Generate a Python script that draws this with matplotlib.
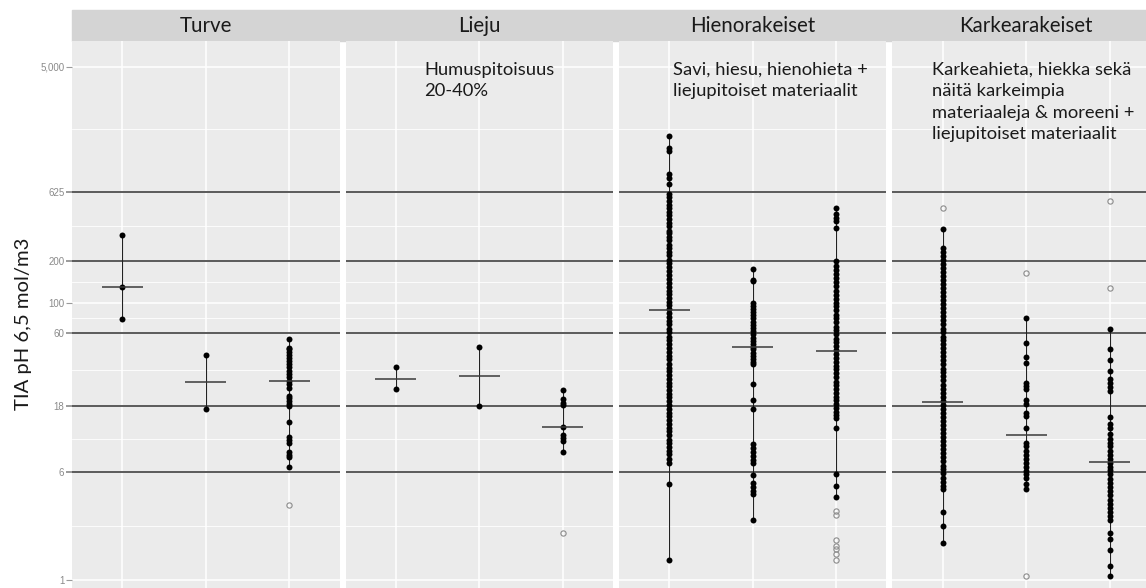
import numpy as np
import matplotlib
matplotlib.use("Agg")
from matplotlib import pyplot as plt
from matplotlib.patches import Rectangle

# facet titles and the notes written inside the panels
panels = ["Turve", "Lieju", "Hienorakeiset", "Karkearakeiset"]
notes = ["", "Humuspitoisuus\n20-40%",
         "Savi, hiesu, hienohieta +\nliejupitoiset materiaalit",
         "Karkeahieta, hiekka sekä\nnäitä karkeimpia\nmateriaaleja & moreeni +\nliejupitoiset materiaalit"]

# y axis
y_ticks = [1, 6, 18, 60, 100, 200, 625, 5000]
y_labels = ["1", "6", "18", "60", "100", "200", "625", "5,000"]
class_limits = [6, 18, 60, 200, 625]

# Turve
turve_pts = [
    [306, 130, 76],
    [42, 17.2],
    [55, 47.4, 46.2, 44.4, 42, 39.8, 38, 36, 34.1, 32.3, 30.5, 28.9, 27.3, 25.9,
     24.2, 21.3, 20.5, 19.4, 18.6, 18, 13.9, 10.7, 10.3, 9.7, 8.4, 8.0, 7.7, 6.5],
]
turve_out = [[], [], [3.5]]
turve_med = [130, 26.9, 27.3]

# Lieju
lieju_pts = [
    [34.5, 23.7],
    [48, 18],
    [23.3, 20.3, 19.0, 18.4, 12.8, 11.2, 10.6, 10.1, 8.4],
]
lieju_out = [[], [], [2.2]]
lieju_med = [28.4, 29.5, 12.8]

# Hienorakeiset
hieno_pts = [
    [1574, 1291, 1228, 839, 785, 711, 603, 572, 540, 505, 480, 452, 430, 401, 377,
     356, 330, 318, 296, 281, 262, 247, 231, 219, 204, 193, 180, 168, 158, 149, 139,
     130, 122, 116, 108, 101, 96, 90, 84, 79, 74, 70, 65, 61, 57, 54, 50, 47, 44, 41,
     39, 36, 34, 32, 30, 28, 26.5, 25, 23.4, 22, 20.8, 19.5, 18.4, 17.2, 16.1, 15.2,
     14.3, 13.4, 12.6, 11.8, 11.1, 10.3, 9.8, 9.1, 8.6, 8.1, 7.5, 7.0, 4.9, 1.39],
    [174, 145, 143, 100, 95, 90, 85, 81, 77, 73, 69, 66, 62, 59, 56, 53, 50, 48, 46,
     43, 41, 39, 37.5, 36.3, 26.0, 20.0, 17.2, 9.6, 9.0, 8.4, 7.9, 7.4, 7.0, 5.7,
     5.0, 4.7, 4.4, 4.2, 2.74],
    [478, 433, 410, 385, 344, 200, 185, 172, 160, 150, 140, 131, 122, 114, 107, 100,
     94, 88, 82, 77, 72, 67, 63, 59, 55, 52, 48.5, 45.5, 42.5, 40, 37.5, 35, 33, 31,
     29, 27, 25.5, 24, 22.5, 21, 19.8, 18.6, 17.4, 16.2, 15.6, 14.8, 12.4, 5.87,
     4.8, 3.95],
]
hieno_out = [[], [], [3.18, 2.93, 1.94, 1.78, 1.67, 1.54, 1.39]]
hieno_med = [88.5, 48.2, 45.1]

# Karkearakeiset
karkea_pts = [
    [338, 247, 232, 216, 202, 190, 177, 165, 155, 145, 136, 127, 119, 111, 104, 97,
     91, 85, 80, 75, 70, 65, 61, 57, 53.5, 50, 47, 44, 41, 38.5, 36, 33.5, 31.5,
     29.5, 27.5, 25.7, 24, 22.5, 21, 19.7, 18.4, 17.2, 16.1, 15, 14.1, 13.2, 12.3,
     11.5, 10.8, 10.1, 9.4, 8.8, 8.2, 7.7, 7.2, 6.7, 6.3, 5.9, 5.5, 5.1, 4.8, 4.58,
     3.13, 2.48, 1.87],
    [77.1, 51.3, 40.7, 36.8, 26.5, 25.2, 23.9, 20.0, 18.7, 16.1, 15.3, 12.6, 9.8,
     9.2, 8.6, 8.0, 7.5, 7.0, 6.5, 6.1, 5.8, 5.5, 4.97, 4.58],
    [64.9, 46.6, 38.9, 32.3, 28.3, 26.5, 24.8, 23.2, 15.1, 13.4, 12.4, 11.3, 10.5,
     9.8, 9.2, 8.6, 8.0, 7.5, 7.0, 6.6, 6.2, 5.8, 5.4, 5.0, 4.7, 4.4, 4.1, 3.8,
     3.55, 3.3, 3.1, 2.9, 2.7, 2.19, 2.0, 1.64, 1.26, 1.07],
]
karkea_out = [[478], [163, 1.07], [537, 128]]
karkea_med = [19.1, 11.1, 7.16]

all_pts = [turve_pts, lieju_pts, hieno_pts, karkea_pts]
all_out = [turve_out, lieju_out, hieno_out, karkea_out]
all_med = [turve_med, lieju_med, hieno_med, karkea_med]

W, H = 1146, 588
fig = plt.figure(figsize=(W / 100, H / 100), dpi=100)
fig.patch.set_facecolor("white")

txt_font = ["Lato", "DejaVu Sans"]
panel_left = [72, 345.5, 619, 892.5]
panel_w = 267.5
ax_top, ax_bot = 41, 606
note_x = [0, 0.293, 0.202, 0.148]

# geometric midpoints between the major ticks -> minor grid
minor = [np.sqrt(a * b) for a, b in zip(y_ticks[:-1], y_ticks[1:])]

for i, name in enumerate(panels):
    ax = fig.add_axes([panel_left[i] / W, (H - ax_bot) / H, panel_w / W, (ax_bot - ax_top) / H])
    ax.set_facecolor("#ebebeb")
    for s in ax.spines.values():
        s.set_visible(False)
    ax.set_yscale("log")
    ax.set_ylim(10 ** -0.185, 10 ** 3.884)
    ax.set_xlim(0.4, 3.6)

    ax.set_xticks([1, 2, 3])
    ax.set_xticklabels([])
    ax.tick_params(axis="x", length=0)
    ax.set_yticks(y_ticks)
    ax.set_yticks(minor, minor=True)
    ax.tick_params(axis="y", which="minor", length=0, labelleft=False)
    if i == 0:
        ax.set_yticklabels(y_labels, fontsize=7, color="#8a8a8a", family="Liberation Sans")
        ax.tick_params(axis="y", which="major", length=4, width=0.8, color="#9a9a9a", pad=1.5)
        for t, v in zip(ax.yaxis.get_major_ticks(), y_ticks):
            if v in class_limits:
                t.tick1line.set_color("#5a5a5a")
                t.tick1line.set_markeredgewidth(1.4)
    else:
        ax.set_yticklabels([])
        ax.tick_params(axis="y", which="major", length=0)

    ax.grid(True, which="major", color="white", lw=1.1, zorder=0)
    ax.grid(True, which="minor", axis="y", color="white", lw=0.6, zorder=0)
    ax.set_axisbelow(True)

    for v in class_limits:
        ax.axhline(v, color="#5a5a5a", lw=1.4, zorder=1)

    for j in range(3):
        x = j + 1
        pts = all_pts[i][j]
        ax.vlines(x, min(pts), max(pts), color="#222222", lw=0.8, zorder=2)
        ax.plot([x] * len(pts), pts, "o", ms=4.3, color="black", mew=0, zorder=3)
        out = all_out[i][j]
        if out:
            ax.plot([x] * len(out), out, "o", ms=3.8, mfc="none", mec="#8c8c8c",
                    mew=0.8, zorder=3)
        ax.hlines(all_med[i][j], x - 0.245, x + 0.245, color="#3a3a3a", lw=1.1, zorder=4)

    if notes[i]:
        ax.text(note_x[i], 0.963, notes[i], transform=ax.transAxes, va="top", ha="left",
                fontsize=13.2, color="#1a1a1a", family=txt_font, linespacing=1.42)

    # strip label
    fig.text((panel_left[i] + panel_w / 2) / W, 1 - 25.5 / H, name, ha="center",
             va="center", fontsize=14.8, color="#1a1a1a", family=txt_font)

# one continuous grey strip above the panels
fig.patches.append(Rectangle((72 / W, 1 - 41 / H), (W - 72) / W, 31 / H,
                             transform=fig.transFigure, color="#d4d4d4", zorder=-1))

fig.text(24 / W, 1 - 324 / H, "TIA pH 6,5 mol/m3", rotation=90, ha="center",
         va="center", fontsize=14.6, color="#1a1a1a", family=txt_font)

fig.savefig("out.png", dpi=100)
